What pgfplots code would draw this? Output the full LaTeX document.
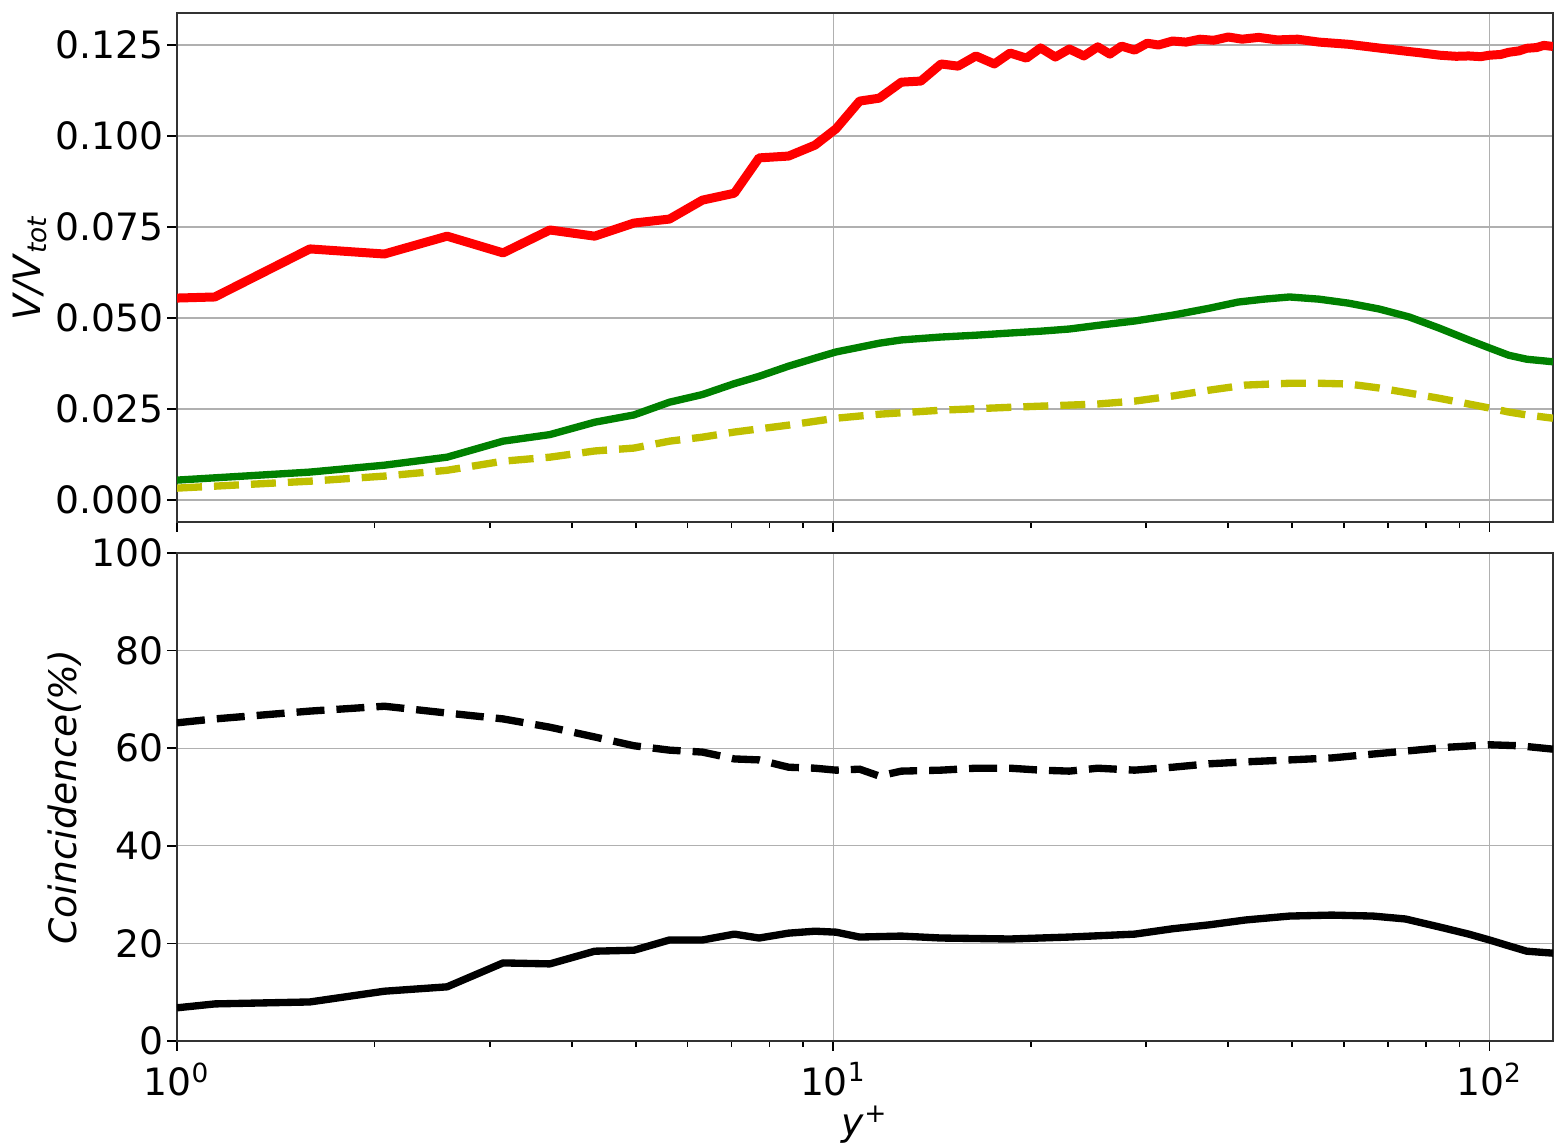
\documentclass[border=0pt]{standalone}
\usepackage{fontspec}
\setmainfont{DejaVu Sans}
\usepackage{pgfplots}
\pgfplotsset{compat=1.18}
\definecolor{myred}{rgb}{1,0,0}
\definecolor{mygreen}{rgb}{0,0.5,0}
\definecolor{myyellow}{rgb}{0.75,0.75,0}
\definecolor{gridgray}{rgb}{0.69,0.69,0.69}
\pgfplotsset{
  myaxisstyle/.style={
    scale only axis, width=412.8pt, anchor=south west,
    xmin=1, xmax=125,
    grid=major, major grid style={gridgray, line width=0.4pt},
    tick align=outside, xtick pos=bottom, ytick pos=left,
    major tick length=3pt, minor tick length=1.8pt,
    every tick/.style={black, line width=0.5pt},
    axis line style={line width=0.6pt, black!80},
    tick label style={font=\fontsize{11.3}{13}\selectfont},
    yticklabel style={inner xsep=1pt},
    label style={font=\fontsize{11.3}{13}\selectfont},
    /pgf/number format/assume math mode=true,
  }
}
\begin{document}
\begin{tikzpicture}
\useasboundingbox (0,0) rectangle (468pt,344.4pt);
% top axis
\begin{semilogxaxis}[myaxisstyle, at={(53.1pt,187.8pt)}, height=152.7pt,
  ymin=-0.006, ymax=0.1338,
  ytick={0,0.025,0.05,0.075,0.1,0.125},
  yticklabel style={/pgf/number format/.cd, fixed, fixed zerofill, precision=3},
  scaled y ticks=false,
  xtick={1,10,100}, xticklabels={},
  ylabel={\textit{V/V}\textsubscript{\textit{tot}}},
  ylabel style={at={(axis description cs:-0.1068,0.5)}, anchor=center},
]
\addplot[myred, line width=2.7pt, line join=round] coordinates {
(1,0.0555)(1.142,0.0558)(1.594,0.069)(2.07,0.0676)(2.58,0.0725)(3.14,0.0679)
(3.70,0.0742)(4.33,0.0725)(4.97,0.0761)(5.63,0.0772)(6.32,0.0824)(7.07,0.0843)
(7.71,0.094)(8.55,0.0945)(9.38,0.0975)(10.1,0.102)(10.97,0.1096)(11.75,0.1104)
(12.7,0.1148)(13.6,0.1151)(14.6,0.1198)(15.5,0.1192)(16.5,0.122)(17.6,0.1198)
(18.6,0.1228)(19.7,0.1214)(20.7,0.1242)(21.8,0.1217)(22.9,0.1239)(24.1,0.122)
(25.3,0.1245)(26.4,0.1225)(27.5,0.1247)(28.8,0.1236)(30.1,0.1255)(31.3,0.125)
(32.9,0.1261)(34.5,0.1258)(36.2,0.1266)(38.0,0.1263)(40.0,0.1272)(42.0,0.1266)
(44.5,0.1271)(47.5,0.1264)(51,0.1266)(55,0.1258)(61,0.1252)(67,0.1243)
(73,0.1235)(79,0.1228)(84,0.1222)(89,0.1219)(93,0.1220)(97,0.1218)(100,0.1222)
(104,0.1224)(107,0.1230)(111,0.1234)(114,0.1241)(118,0.1243)(121,0.1249)(125,0.1246)
};
\addplot[mygreen, line width=2.2pt, line join=round] coordinates {
(1,0.0055)(1.594,0.0077)(2.07,0.0096)(2.58,0.0118)(3.14,0.0162)(3.70,0.018)
(4.33,0.0214)(4.97,0.0234)(5.63,0.0269)(6.32,0.029)(7.07,0.032)(7.71,0.034)
(8.55,0.0368)(9.38,0.039)(10.1,0.0407)(10.97,0.042)(11.75,0.0431)(12.7,0.044)
(14.6,0.0448)(16.5,0.0453)(18.6,0.0459)(20.7,0.0464)(22.9,0.047)(25.3,0.048)
(28.8,0.0492)(32.9,0.0508)(37.4,0.0527)(41.4,0.0544)(45.3,0.0552)(49.6,0.0558)
(55.0,0.0552)(61.0,0.0541)(67.9,0.0525)(75.5,0.0503)(83.7,0.0473)(93.0,0.044)
(100,0.0418)(107,0.0398)(114,0.0387)(125,0.038)
};
\addplot[myyellow, line width=2.2pt, dash pattern=on 7.5pt off 3.6pt] coordinates {
(1,0.0033)(1.594,0.0052)(2.07,0.0066)(2.58,0.0082)(3.14,0.0107)(3.70,0.0118)
(4.33,0.0135)(4.97,0.0143)(5.63,0.0162)(6.32,0.0173)(7.07,0.0187)(8.55,0.0206)
(10.1,0.0225)(11.75,0.0236)(14.6,0.0247)(18.6,0.0255)(22.9,0.0261)(25.3,0.0264)
(28.8,0.0272)(32.9,0.0286)(37.4,0.0302)(42.5,0.0316)(49.6,0.0321)(55.0,0.0321)
(61.0,0.0319)(67.9,0.0308)(75.5,0.0294)(83.7,0.028)(93.0,0.0264)(100,0.0253)
(107,0.0242)(114,0.0234)(125,0.0225)
};
\end{semilogxaxis}
% bottom axis
\begin{semilogxaxis}[myaxisstyle, at={(53.1pt,32.1pt)}, height=146.4pt,
  ymin=0, ymax=100, ytick={0,20,40,60,80,100},
  xtick={1,10,100},
  xticklabels={10\textsuperscript{0},10\textsuperscript{1},10\textsuperscript{2}},
  ylabel={\textit{Coincidence(\%)}},
  ylabel style={at={(axis description cs:-0.0814,0.5)}, anchor=center},
  xlabel={\textit{y}\textsuperscript{+}},
  xlabel style={at={(axis description cs:0.5,0)}, anchor=center, yshift=-25pt},
]
\addplot[black, line width=2.2pt, dash pattern=on 8.4pt off 3.6pt] coordinates {
(1,65.2)(1.142,66.0)(1.594,67.6)(2.07,68.6)(2.58,67.2)(3.14,66.0)(3.70,64.3)
(4.33,62.3)(4.97,60.5)(5.63,59.6)(6.32,59.2)(7.07,57.8)(7.71,57.6)(8.55,56.1)
(9.38,55.9)(10.1,55.5)(10.97,55.7)(11.75,54.3)(12.7,55.3)(14.6,55.5)(16.5,55.9)
(18.6,55.9)(20.7,55.5)(22.9,55.3)(25.3,55.9)(28.8,55.5)(32.9,56.1)(37.4,56.8)
(42.5,57.2)(49.6,57.6)(57.5,58.0)(66.5,58.8)(74.5,59.4)(86.5,60.2)(100,60.7)
(111,60.5)(125,59.8)
};
\addplot[black, line width=2.2pt, line join=round] coordinates {
(1,6.8)(1.142,7.6)(1.594,8.0)(2.07,10.2)(2.58,11.1)(3.14,16.0)(3.70,15.8)
(4.33,18.4)(4.97,18.6)(5.63,20.7)(6.32,20.7)(7.07,21.9)(7.71,21.1)(8.55,22.1)
(9.38,22.5)(10.1,22.3)(10.97,21.3)(12.7,21.5)(14.6,21.1)(18.6,20.9)(22.9,21.3)
(28.8,21.9)(32.9,23.0)(37.4,23.8)(42.5,24.8)(49.6,25.6)(57.5,25.8)(66.5,25.6)
(74.5,25.0)(83.7,23.4)(93.0,21.9)(100,20.7)(107,19.5)(114,18.4)(125,18.0)
};
\end{semilogxaxis}
\end{tikzpicture}
\end{document}
